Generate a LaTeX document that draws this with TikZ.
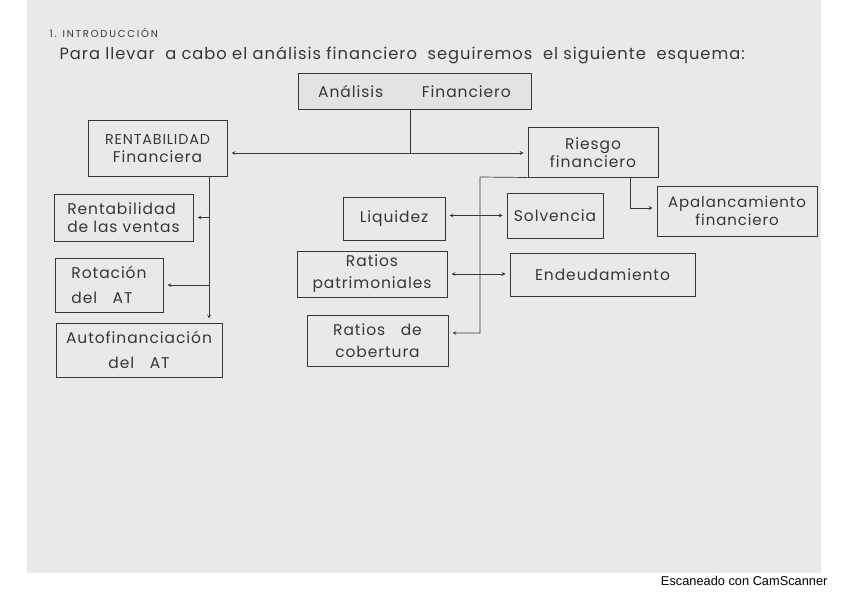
\documentclass[tikz,border=0pt]{standalone}
\usepackage{fontspec,xcolor}
\setmainfont{Poppins}[LetterSpace=6]
\setsansfont{Liberation Sans}
\newfontfamily\titfont{Poppins}[LetterSpace=18]
\usetikzlibrary{positioning}
\definecolor{paper}{RGB}{233,233,235}
\definecolor{ink}{RGB}{55,55,58}

\begin{document}
\begin{tikzpicture}[x=1pt,y=-1pt,
    caja/.style={draw=ink,line width=1pt,text=ink,font=\fontsize{15.5}{18}\selectfont,align=center,inner sep=0pt},
    flecha/.style={draw=ink,line width=0.7pt,->,>=stealth,shorten >=4pt}]
            \useasboundingbox (0,0) rectangle (848,599);
            \fill[paper] (27,0) rectangle (821,573);
            \node[anchor=east,font=\sffamily\fontsize{12.8}{14}\selectfont] (cam) at (831,581) {Escaneado con CamScanner};
            % cabecera
            \node[anchor=west,text=ink,font=\titfont\fontsize{10}{10}\selectfont] (tit) at (46,33) {1. INTRODUCCIÓN};
            \node[anchor=west,text=ink,font=\fontsize{16.3}{18}\selectfont] (intro) at (56,55) {Para llevar\ \ a cabo el análisis financiero\ \ seguiremos\ \ el siguiente\ \ esquema:};
            % cajas
            \node[caja,fill=gray!22,minimum width=233,minimum height=36] (ana) at (414.5,92) {Análisis\hspace{2.5em}Financiero};
            \node[caja,minimum width=139,minimum height=55] (rf) at (157.5,148.5) {{\fontsize{14.3}{18}\selectfont RENTABILIDAD}\\Financiera};
            \node[caja,minimum width=130,minimum height=49] (rie) at (593,152.5) {Riesgo\\financiero};
            \node[caja,minimum width=139,minimum height=47,align=left] (rv) at (123.5,217.5) {Rentabilidad\\de las ventas};
            \node[caja,minimum width=108,minimum height=54,align=left,font=\fontsize{15.5}{25}\selectfont] (rot) at (109,285) {Rotación\\del\quad AT};
            \node[caja,minimum width=166,minimum height=54,font=\fontsize{15.5}{25}\selectfont] (auto) at (139,350) {Autofinanciación\\del\quad AT};
            \node[caja,minimum width=102,minimum height=43] (liq) at (394,218.5) {Liquidez};
            \node[caja,minimum width=96,minimum height=45] (sol) at (555,215.5) {Solvencia};
            \node[caja,minimum width=160,minimum height=50,font=\fontsize{15}{18}\selectfont] (apa) at (737,211) {Apalancamiento\\financiero};
            \node[caja,minimum width=150,minimum height=46,font=\fontsize{15.5}{22}\selectfont] (rpat) at (372,274) {Ratios\\patrimoniales};
            \node[caja,minimum width=185,minimum height=43] (end) at (602.5,274.5) {Endeudamiento};
            \node[caja,minimum width=141,minimum height=51,font=\fontsize{15.5}{22}\selectfont] (rcob) at (377.5,340.5) {Ratios\quad de\\cobertura};
            % conexiones
            \coordinate (j1) at (410,153);
            \coordinate (j2) at (209,176);
            \coordinate (j3) at (480,177);
            \coordinate (j4) at (480,333);
            \coordinate (j5) at (630,208);
            \draw[draw=ink,line width=0.7pt] (ana.south -| j1) -- (j1);
            \draw[flecha] (j1) -- (rf.east |- j1);
            \draw[flecha] (j1) -- (rie.west |- j1);
            \draw[flecha] (j2) -- (auto.north -| j2);
            \draw[flecha] (j2 |- rv.east) -- (rv.east);
            \draw[flecha] (j2 |- rot.east) -- (rot.east);
            \draw[flecha] (rie.south west) -- (j3) -- (j4) -- (rcob.east |- j4);
            \draw[flecha,<->,shorten <=4pt] (liq.east |- sol.west) -- (sol.west);
            \draw[flecha,<->,shorten <=4pt] (rpat.east) -- (end.west |- rpat.east);
            \draw[flecha] (rie.south -| j5) -- (j5) -- (apa.west |- j5);
        \end{tikzpicture}
\end{document}
